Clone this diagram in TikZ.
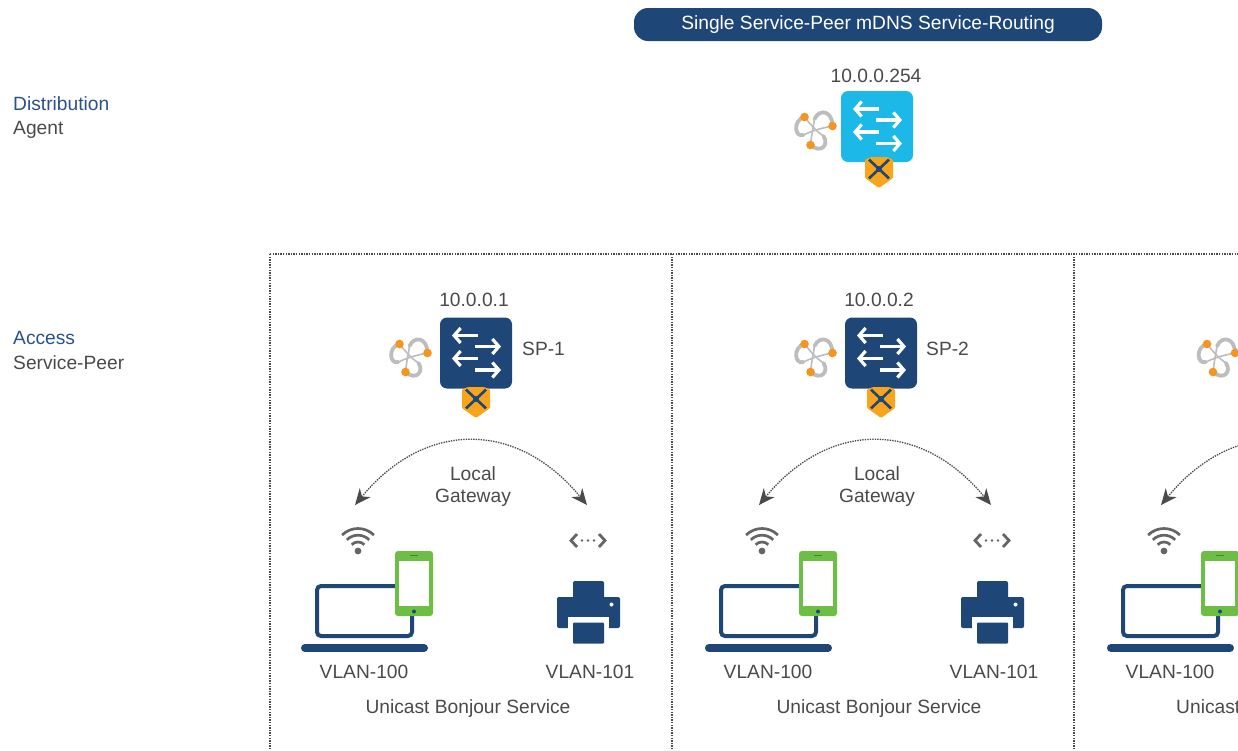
\documentclass[tikz,border=0pt]{standalone}
\usepackage{fontspec}
\setmainfont{Liberation Sans}
\usetikzlibrary{arrows.meta,calc}
\definecolor{navy}{HTML}{1E4676}
\definecolor{sky}{HTML}{1BB8E8}
\definecolor{amber}{HTML}{F9A51C}
\definecolor{leaf}{HTML}{6CBE45}
\definecolor{txt}{HTML}{4A4A4A}
\definecolor{head}{HTML}{2A5288}
\definecolor{knot}{HTML}{BDBDBD}
\definecolor{dots}{HTML}{F7941D}
\tikzset{
  lbl/.style={font=\fontsize{19.2}{21}\selectfont,text=txt,inner sep=0pt},
  lblw/.style={lbl,anchor=west},
  lblh/.style={lbl,anchor=west,text=head},
  swbox/.style={rectangle,rounded corners=7pt,minimum width=72pt,minimum height=71pt,inner sep=0pt},
  swarrow/.style={white,line width=3.4pt,-{Straight Barb[length=6.5pt,width=15pt,line width=3.2pt]}},
  sep/.style={txt,line width=1.2pt,dash pattern=on 1.4pt off 1.2pt},
  gatew/.style={txt,line width=1.3pt,dash pattern=on 1.4pt off 1.1pt,{Stealth[length=16pt,width=14pt,inset=5pt]}-{Stealth[length=16pt,width=14pt,inset=5pt]}},
  wifiarc/.style={txt!85,line width=2.7pt},
}
\newcommand{\swsym}[6]{% name, x, y, colour, shield dx, shield dy
  \node[swbox,fill=#4] (#1) at (#2,#3) {};
  \begin{scope}[shift={(#2,#3)}]
    \draw[swarrow] (2,-17.5) -- (-24,-17.5);
    \draw[swarrow] (-1,-6.5) -- (25,-6.5);
    \draw[swarrow] (2,5.5) -- (-24,5.5);
    \draw[swarrow] (-1,17) -- (25,17);
    \begin{scope}[shift={(#5,#6)}]
      \fill[amber,rounded corners=1pt] (-14,36.5) -- (-8,34) -- (8,34) -- (14,36.5) -- (14,55) -- (0,65) -- (-14,55) -- cycle;
      \draw[navy,line width=2.6pt,line cap=round] (-8,38.5) -- (8,53.5) (8,38.5) -- (-8,53.5);
      \fill[navy] (-9,37.5) circle (1.9pt) (9,37.5) circle (1.9pt) (-9,54.5) circle (1.9pt) (9,54.5) circle (1.9pt) (0,46) circle (3pt);
    \end{scope}
  \end{scope}
}
\newcommand{\knotsym}[2]{%
  \begin{scope}[shift={(#1,#2)}]
    \draw[knot,line width=1.6pt] (-11,-13) .. controls (-5,-5) and (3,3) .. (8,6);
    \draw[knot,line width=1.6pt] (17,-4) .. controls (6,-2) and (-4,1) .. (-12,5);
    \draw[knot,line width=1.6pt] (-5,15) .. controls (-4,5) and (-2,-4) .. (-1,-11);
    \draw[knot,line width=3.8pt,line cap=round] (-1,-11) .. controls (4,-22) and (17,-19) .. (17,-4);
    \draw[knot,line width=3.8pt,line cap=round] (8,6) .. controls (14,15) and (5,24) .. (-5,15);
    \draw[knot,line width=3.8pt,line cap=round] (-12,5) .. controls (-21,8) and (-23,-10) .. (-11,-13);
    \fill[dots] (-11,-13) circle (4.3pt) (17,-4) circle (4.3pt) (-5,15) circle (4.3pt);
  \end{scope}
}
\newcommand{\devices}[1]{% x offset
  \begin{scope}[xshift=#1pt]
    % wifi
    \fill[txt!85] (358,551) circle (3.4pt);
    \foreach \r in {9,15.8,22.5}
      \draw[wifiarc] (358-.7071*\r,551-.7071*\r) arc[start angle=-135,end angle=-45,radius=\r];
    % laptop
    \draw[navy,line width=4pt,rounded corners=4pt] (397,586) -- (317,586) -- (317,636) -- (412,636) -- (412,612);
    \draw[navy,line width=8pt,line cap=round] (305,648) -- (424,648);
    % phone
    \fill[leaf,rounded corners=3pt] (395,551) rectangle (433,616);
    \fill[white] (399,561) rectangle (429,606);
    \draw[leaf!70!black,line width=1pt] (410,555) -- (418,555);
    \fill[navy] (414,611.5) circle (2pt);
  \end{scope}
}
\newcommand{\printer}[1]{%
  \begin{scope}[xshift=#1pt]
    % link symbol
    \draw[txt!85,line width=2.8pt] (577,534) -- (571,540.5) -- (577,547);
    \draw[txt!85,line width=2.8pt] (599,534) -- (605,540.5) -- (599,547);
    \fill[txt!85] (582,540.5) circle (1.4pt) (588,540.5) circle (1.4pt) (594,540.5) circle (1.4pt);
    % printer
    \fill[navy,rounded corners=2pt] (573,581) rectangle (604,600);
    \fill[navy,rounded corners=2pt] (557,597) rectangle (620,628);
    \fill[white] (568,617) rectangle (609,640);
    \fill[navy,rounded corners=1pt] (573,622.5) rectangle (604,643.5);
    \fill[white] (611.5,604.5) circle (2pt);
  \end{scope}
}
\begin{document}
\begin{tikzpicture}[x=1pt,y=-1pt]
\useasboundingbox (0,0) rectangle (1238,750);
\clip (0,0) rectangle (1238,750);
% dividers
\coordinate (tl) at (270,254); \coordinate (tr) at (1238,254);
\coordinate (b1) at (270,750); \coordinate (b2) at (672,750); \coordinate (b3) at (1074,750);
\coordinate (t2) at (672,254); \coordinate (t3) at (1074,254);
\draw[sep] (tl) -- (tr);
\draw[sep] (tl) -- (b1);
\draw[sep] (t2) -- (b2);
\draw[sep] (t3) -- (b3);
% title
\node[fill=navy,rounded corners=14pt,minimum width=468pt,minimum height=33pt,inner sep=0pt,
      font=\fontsize{19.2}{21}\selectfont,text=white] (title) at (868,24.5) {\raisebox{-.5pt}{Single Service-Peer mDNS Service-Routing}};
% row labels
\node[lblh] (distL) at (13,104) {Distribution};
\node[lblw] (agentL) at (13,130) {Agent};
\node[lblh] (accL) at (13,338) {Access};
\node[lblw] (speerL) at (13,362.5) {Service-Peer};
% distribution switch
\swsym{dist}{877}{126.5}{sky}{2}{-3.5}
\knotsym{815.5}{130}
\node[lbl] (ip0) at (876,76) {10.0.0.254};
% access switches
\swsym{sp1}{476}{353}{navy}{0}{0}
\knotsym{410.5}{357}
\node[lbl] (ip1) at (474,300) {10.0.0.1};
\node[lblw] (n1) at (522,349) {SP-1};
\swsym{sp2}{881}{353}{navy}{0}{0}
\knotsym{815.5}{357}
\node[lbl] (ip2) at (879,300) {10.0.0.2};
\node[lblw] (n2) at (926,349) {SP-2};
\knotsym{1218}{357}
% gateway labels
\node[lbl] (g1a) at (473,474) {Local};
\node[lbl] (g1b) at (473,498) {Gateway};
\node[lbl] (g2a) at (877,474) {Local};
\node[lbl] (g2b) at (877,498) {Gateway};
% gateway arcs
\coordinate (a1l) at (355,505); \coordinate (a1r) at (587,505);
\coordinate (a2l) at (759,505); \coordinate (a2r) at (991,505);
\coordinate (a3l) at (1161,505); \coordinate (a3r) at (1393,505);
\draw[gatew] (a1l) .. controls +(70,-85) and +(-70,-85) .. (a1r);
\draw[gatew] (a2l) .. controls +(70,-85) and +(-70,-85) .. (a2r);
\draw[gatew] (a3l) .. controls +(70,-85) and +(-70,-85) .. (a3r);
% devices
\devices{0}\devices{404}\devices{806}
\printer{0}\printer{404}
\node[lbl] (v1) at (364,672) {VLAN-100};
\node[lbl] (w1) at (590,672) {VLAN-101};
\node[lbl] (u1) at (468,709) {Unicast Bonjour Service};
\node[lbl] (v2) at (768,672) {VLAN-100};
\node[lbl] (w2) at (994,672) {VLAN-101};
\node[lbl] (u2) at (879,709) {Unicast Bonjour Service};
\node[lbl] (v3) at (1170,672) {VLAN-100};
\node[lbl,anchor=west] (u3) at (1176,709) {Unicast Bonjour Service};
\end{tikzpicture}
\end{document}
